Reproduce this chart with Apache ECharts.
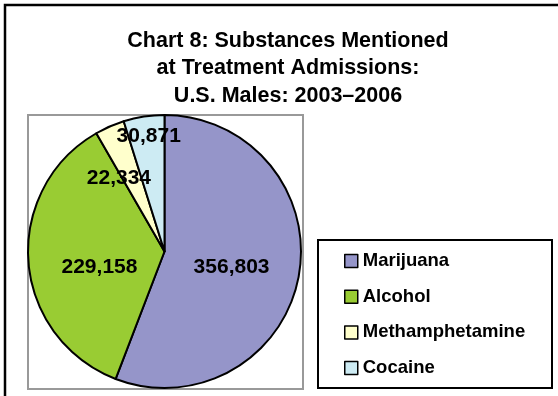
<!DOCTYPE html>
<html>
<head>
<meta charset="utf-8">
<script src="https://cdn.jsdelivr.net/npm/echarts@6/dist/echarts.min.js"></script>
<style>html,body{margin:0;padding:0;background:#fff;}#c{width:558px;height:396px;}</style>
</head>
<body>
<div id="c"></div>
<script>
var titleLines = ['Chart 8: Substances Mentioned', 'at Treatment Admissions:', 'U.S. Males: 2003\u20132006'];
var categories = ['Marijuana', 'Alcohol', 'Methamphetamine', 'Cocaine'];
var values = [356803, 229158, 22334, 30871];
var colors = ['#9595c9', '#99cc33', '#ffffcc', '#cdebf3'];
var labelOffsets = [[-3, 3], [6, 10], [-17, -8], [-5, -45]];

var font = '"Liberation Sans", Arial, sans-serif';
var chart = echarts.init(document.getElementById('c'), null, {renderer: 'canvas'});
chart.setOption({
  animation: false,
  backgroundColor: '#fff',
  title: {
    text: titleLines.join('\n'),
    left: 283, top: 22, textAlign: 'center',
    textStyle: {fontFamily: font, fontWeight: 'bold', fontSize: 21.5, lineHeight: 27.5, color: '#000'}
  },
  graphic: [
    {type: 'rect', shape: {x: 5, y: 5, width: 620, height: 500}, style: {fill: null, stroke: '#000', lineWidth: 2.5}, silent: true},
    {type: 'rect', shape: {x: 28, y: 115, width: 275, height: 274}, style: {fill: null, stroke: '#999', lineWidth: 2}, silent: true, z: -1},
    {type: 'rect', shape: {x: 318, y: 240, width: 234, height: 148}, style: {fill: '#fff', stroke: '#000', lineWidth: 2}, silent: true, z: -1}
  ],
  legend: {
    orient: 'vertical', left: 339, top: 245,
    itemWidth: 13, itemHeight: 13, itemGap: 13.7, icon: 'rect',
    itemStyle: {borderColor: '#000', borderWidth: 1.5},
    textStyle: {fontFamily: font, fontWeight: 'bold', fontSize: 18.5, lineHeight: 22, color: '#000'},
    data: categories
  },
  color: colors,
  series: [{
    type: 'pie',
    center: [164.5, 251.5], radius: 136.5,
    startAngle: 90, clockwise: true,
    itemStyle: {borderColor: '#000', borderWidth: 2},
    label: {show: true, position: 'inside', fontFamily: font, fontWeight: 'bold', fontSize: 21, color: '#000',
      formatter: function (p) { return p.value.toLocaleString('en-US'); }},
    labelLine: {show: false},
    emphasis: {disabled: true},
    data: categories.map(function (c, i) {
      return {name: c, value: values[i], label: {offset: labelOffsets[i]}};
    })
  }]
});
</script>
</body>
</html>
